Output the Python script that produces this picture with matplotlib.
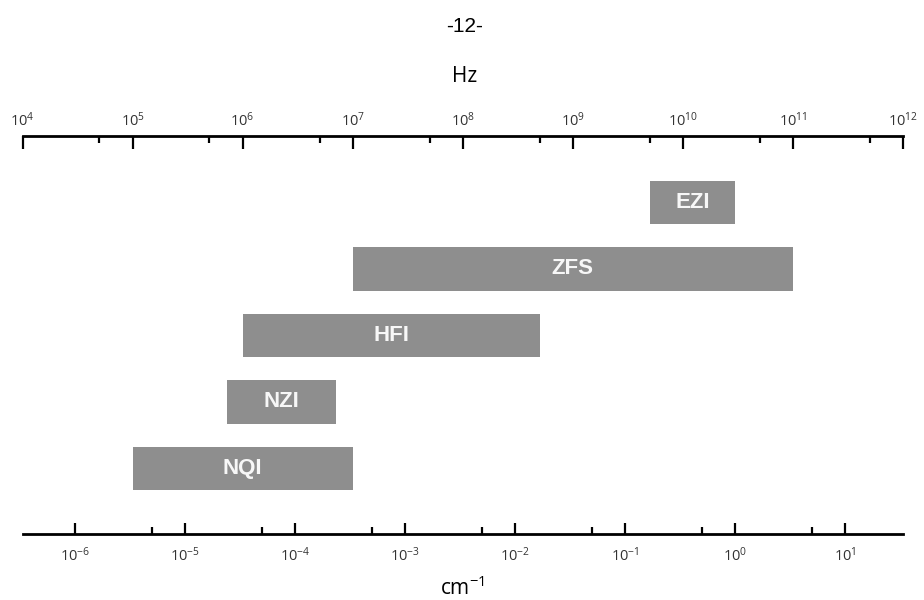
import numpy as np
import matplotlib
matplotlib.use("Agg")
import matplotlib.pyplot as plt
from matplotlib.ticker import FixedLocator, NullFormatter, LogFormatterSciNotation

plt.rcParams['font.family'] = ['Open Sans', 'DejaVu Sans']
plt.rcParams['mathtext.default'] = 'regular'

# interaction ranges, in Hz (bottom to top)
names = ['NQI', 'NZI', 'HFI', 'ZFS', 'EZI']
start_hz = [1e5, 7.2e5, 1e6, 1e7, 5e9]
end_hz = [1e7, 7e6, 5e8, 1e11, 3e10]

hz_major = [1e4, 1e5, 1e6, 1e7, 1e8, 1e9, 1e10, 1e11, 1e12]
hz_minor = [5e4, 5e5, 5e6, 5e7, 5e8, 5e9, 5e10, 5e11]
cm_major = [1e-6, 1e-5, 1e-4, 1e-3, 1e-2, 1e-1, 1e0, 1e1]
cm_minor = [5e-6, 5e-5, 5e-4, 5e-3, 5e-2, 5e-1, 5e0]

HZ_PER_CM = 2.998e10

fig = plt.figure(figsize=(9.24, 6.0), dpi=100)
ax = fig.add_axes([22.5 / 924, 66 / 600, 880.5 / 924, 398 / 600])

ypos = np.arange(len(names))
widths = [e - s for s, e in zip(start_hz, end_hz)]
ax.barh(ypos, widths, left=start_hz, height=0.65, color='#8e8e8e')
for y, s, e, n in zip(ypos, start_hz, end_hz, names):
    ax.text(np.sqrt(s * e), y, n, ha='center', va='center', color='#f7f7f7',
            fontsize=16, fontweight='bold', family=['Liberation Sans', 'DejaVu Sans'])

ax.set_xscale('log')
ax.set_xlim(1e4, 1e12)
ax.set_ylim(-0.985, 5.0)
ax.set_yticks([])

for side in ['left', 'right', 'bottom']:
    ax.spines[side].set_visible(False)
ax.spines['top'].set_linewidth(2)

ax.xaxis.set_ticks_position('top')
ax.xaxis.set_major_locator(FixedLocator(hz_major))
ax.xaxis.set_minor_locator(FixedLocator(hz_minor))
ax.xaxis.set_major_formatter(LogFormatterSciNotation())
ax.xaxis.set_minor_formatter(NullFormatter())
ax.tick_params(axis='x', which='major', direction='in', length=9, width=1.6,
               pad=4, labelsize=10.5, labelcolor='#333333')
ax.tick_params(axis='x', which='minor', direction='in', length=5, width=1.6)

sec = ax.secondary_xaxis('bottom', functions=(lambda x: x / HZ_PER_CM,
                                               lambda x: x * HZ_PER_CM))
sec.spines['bottom'].set_linewidth(2)
sec.xaxis.set_major_locator(FixedLocator(cm_major))
sec.xaxis.set_minor_locator(FixedLocator(cm_minor))
sec.xaxis.set_major_formatter(LogFormatterSciNotation())
sec.xaxis.set_minor_formatter(NullFormatter())
sec.tick_params(axis='x', which='major', direction='in', length=8, width=1.6,
                pad=9, labelsize=10.5, labelcolor='#333333')
sec.tick_params(axis='x', which='minor', direction='in', length=5, width=1.6)

fig.text(465 / 924, 1 - 26 / 600, '-12-', ha='center', va='center', fontsize=15,
         family=['Liberation Sans', 'DejaVu Sans'])
fig.text(465 / 924, 1 - 77 / 600, 'Hz', ha='center', va='center', fontsize=15)
fig.text(463 / 924, 1 - 588 / 600, 'cm$^{-1}$', ha='center', va='center', fontsize=15)

fig.savefig('out.png', dpi=100)
